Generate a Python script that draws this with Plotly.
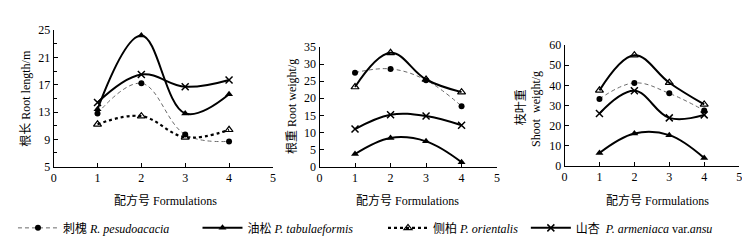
import plotly.graph_objects as go

formulations = [1, 2, 3, 4]

# Root length (m)
root_length_ci = [12.8, 17.2, 9.7, 8.7]
root_length_you = [13.4, 24.2, 12.8, 15.6]
root_length_ce = [11.2, 12.4, 9.3, 10.4]
root_length_shan = [14.4, 18.5, 16.7, 17.7]

# Root weight (g)
root_weight_ci = [27.5, 28.6, 25.3, 17.7]
root_weight_you = [3.7, 8.4, 7.4, 1.3]
root_weight_ce = [23.3, 33.3, 25.5, 21.8]
root_weight_shan = [11.0, 15.2, 14.8, 12.1]

# Shoot weight (g)
shoot_weight_ci = [33.2, 41.2, 36.0, 27.5]
shoot_weight_you = [6.3, 16.0, 15.2, 3.8]
shoot_weight_ce = [37.5, 55.0, 41.3, 30.5]
shoot_weight_shan = [26.0, 37.3, 23.8, 25.3]

names = {
    "ci": "刺槐 <i>R. pesudoacacia</i>",
    "you": "油松 <i>P. tabulaeformis</i>",
    "ce": "侧柏 <i>P. orientalis</i>",
    "shan": "山杏  <i>P. armeniaca</i> var.<i>ansu</i>",
}

SERIF = '"Liberation Serif", "Noto Sans CJK SC"'

def style(key, panel):
    if key == "ci":
        return dict(line=dict(color="#6a6a6a", width=1, dash="4px,3px"),
                    marker=dict(symbol="circle", size=6, color="black"))
    if key == "you":
        return dict(line=dict(color="black", width=2),
                    marker=dict(symbol="triangle-up", size=7, color="black"))
    if key == "ce":
        dash = "dot" if panel == 1 else "solid"
        return dict(line=dict(color="black", width=2.2 if panel == 1 else 2, dash=dash),
                    marker=dict(symbol="triangle-up-open", size=7, color="black",
                                line=dict(width=1.2, color="black")))
    return dict(line=dict(color="black", width=2),
                marker=dict(symbol="x-thin", size=7, color="black",
                            line=dict(width=1.5, color="black")))

panels = [
    (1, {"ci": root_length_ci, "you": root_length_you, "ce": root_length_ce, "shan": root_length_shan}),
    (2, {"ci": root_weight_ci, "you": root_weight_you, "ce": root_weight_ce, "shan": root_weight_shan}),
    (3, {"ci": shoot_weight_ci, "you": shoot_weight_you, "ce": shoot_weight_ce, "shan": shoot_weight_shan}),
]

legend_ids = {"ci": "legend", "you": "legend2", "ce": "legend3", "shan": "legend4"}

fig = go.Figure()
for p, series in panels:
    suffix = "" if p == 1 else str(p)
    for key in ["ci", "ce", "shan", "you"]:
        st = style(key, p)
        fig.add_trace(go.Scatter(
            x=formulations, y=series[key], mode="lines+markers",
            line_shape="spline", line_smoothing=1.1,
            name=names[key], showlegend=(p == 1),
            legend=legend_ids[key],
            xaxis="x" + suffix, yaxis="y" + suffix,
            line=st["line"], marker=st["marker"],
        ))

W, H = 750, 241
def px(x):
    return x / W
def py(y):
    return 1 - y / H

axis_common = dict(showline=True, linecolor="black", linewidth=1, ticks="inside",
                   ticklen=4, tickcolor="black", showgrid=False, zeroline=False,
                   tickfont=dict(family=SERIF, size=12, color="black"))

layout = dict(
    width=W, height=H, margin=dict(l=0, r=0, t=0, b=0),
    paper_bgcolor="white", plot_bgcolor="white",
    font=dict(family=SERIF, color="black"),
    xaxis=dict(domain=[px(43), px(264)], range=[0, 5], tickvals=[0, 1, 2, 3, 4, 5],
               anchor="y", **axis_common),
    yaxis=dict(domain=[py(161), py(16)], range=[5, 25], tickvals=[5, 9, 13, 17, 21, 25],
               anchor="x", minor=dict(ticks="inside", ticklen=3, dtick=2, tick0=5, tickcolor="black"),
               **axis_common),
    xaxis2=dict(domain=[px(311), px(490)], range=[0, 5], tickvals=[0, 1, 2, 3, 4, 5],
                anchor="y2", **axis_common),
    yaxis2=dict(domain=[py(161), py(34)], range=[0, 35], tickvals=[0, 5, 10, 15, 20, 25, 30, 35],
                anchor="x2", **axis_common),
    xaxis3=dict(domain=[px(558), px(734)], range=[0, 5], tickvals=[0, 1, 2, 3, 4, 5],
                anchor="y3", **axis_common),
    yaxis3=dict(domain=[py(160), py(32)], range=[0, 60], tickvals=[0, 10, 20, 30, 40, 50, 60],
                anchor="x3", **axis_common),
)

leg_common = dict(orientation="h", yanchor="middle", y=py(226), xanchor="left",
                  font=dict(family=SERIF, size=12, color="black"),
                  bgcolor="rgba(0,0,0,0)", itemwidth=40, tracegroupgap=0)
layout["legend"] = dict(x=px(2), **leg_common)
layout["legend2"] = dict(x=px(188), **leg_common)
layout["legend3"] = dict(x=px(375), **leg_common)
layout["legend4"] = dict(x=px(519), **leg_common)

fig.update_layout(**layout)

ann = [
    dict(x=px(15), y=py(88), text="根长 Root length/m", textangle=-90),
    dict(x=px(284), y=py(97), text="根重 Root weight/g", textangle=-90),
    dict(x=px(513), y=py(98), text="枝叶重", textangle=-90),
    dict(x=px(529), y=py(100), text="Shoot  weight/g", textangle=-90),
    dict(x=px(156), y=py(197), text="配方号 Formulations", textangle=0),
    dict(x=px(400), y=py(197), text="配方号 Formulations", textangle=0),
    dict(x=px(652), y=py(197), text="配方号 Formulations", textangle=0),
]
for a in ann:
    fig.add_annotation(xref="paper", yref="paper", showarrow=False,
                       xanchor="center", yanchor="middle",
                       font=dict(family=SERIF, size=12, color="black"), **a)

fig.write_html("out.html")
